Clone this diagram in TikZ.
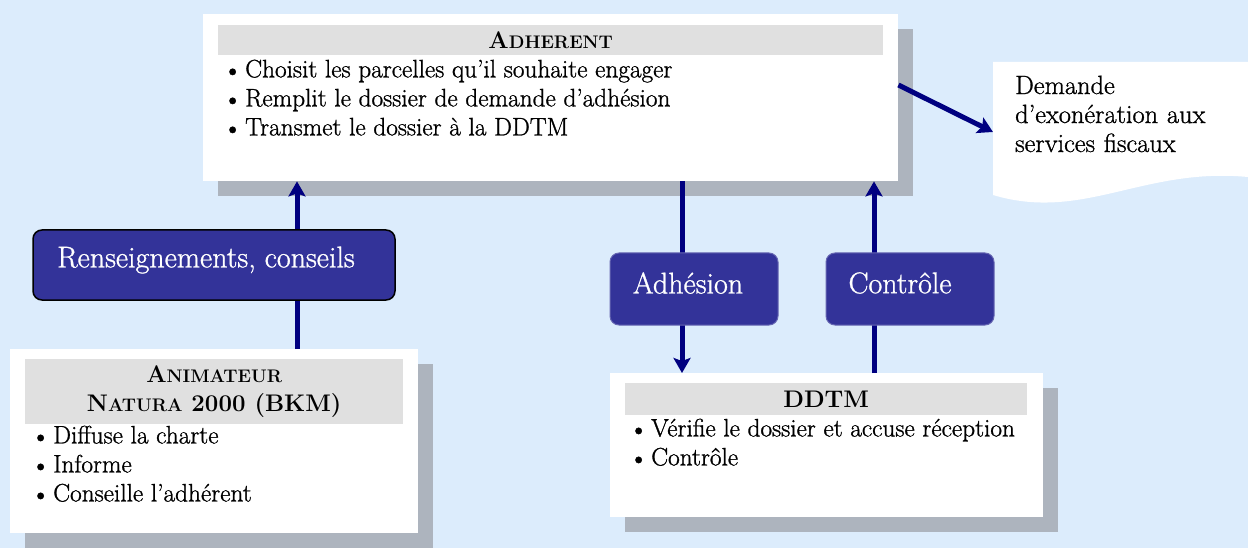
\documentclass[tikz,border=0pt]{standalone}
\usepackage{fontspec}
\setmainfont{Latin Modern Roman}[UprightFeatures={FakeBold=1.0}]
\usetikzlibrary{shadows,calc,arrows.meta}
\definecolor{bgblue}{RGB}{220,236,252}
\definecolor{shadowgray}{RGB}{173,180,190}
\definecolor{headgray}{RGB}{224,224,224}
\definecolor{boxblue}{RGB}{51,51,153}
\definecolor{arrownavy}{RGB}{0,0,128}
\pgfdeclarelayer{back}
\pgfsetlayers{back,main}
\newcommand\bitem{\makebox[19pt][l]{\kern-4pt\raisebox{-2.2pt}{\fontsize{29}{29}\selectfont\textbullet}}}
\newcommand\bigsc[2]{{\fontsize{24}{29}\selectfont #1}{\fontsize{18.2}{29}\selectfont #2}}
\begin{document}
\begin{tikzpicture}[x=1pt,y=-1pt,
  card/.style={fill=white, draw=none, anchor=north west, inner sep=0pt,
    general shadow={fill=shadowgray, shadow xshift=15pt, shadow yshift=-15pt}},
  headbar/.style={fill=headgray, anchor=north west, inner sep=0pt, align=center,
    font=\bfseries\fontsize{24}{29}\selectfont},
  bullets/.style={anchor=north west, inner sep=0pt, align=left,
    font=\fontsize{25.3}{29}\selectfont},
  doctext/.style={anchor=north west, inner xsep=22pt, inner ysep=13.5pt,
    text width=211pt, align=left, font=\fontsize{26.4}{29}\selectfont},
  flow/.style={draw=arrownavy, line width=5pt, -{Stealth[length=15pt,width=17pt,inset=3pt]}},
  tag/.style={rounded corners=9pt, fill=boxblue, text=white,
    font=\fontsize{30}{34}\selectfont, inner sep=0pt}
]
\useasboundingbox (0,0) rectangle (1248,548);

% Adherent
\node[card, minimum width=695pt, minimum height=167pt] (adh) at (203,14) {};
\node[headbar, minimum width=665pt, minimum height=30pt] (adhhead) at (218,25) {\bigsc{A}{DHERENT}};
\node[bullets] (adhlist) at (226,59.5) {\bitem Choisit les parcelles qu’il souhaite engager\\ \bitem Remplit le dossier de demande d’adhésion\\ \bitem Transmet le dossier à la DDTM};

% Animateur
\node[card, minimum width=408pt, minimum height=184pt] (anim) at (10,349) {};
\node[headbar, minimum width=378pt, minimum height=65pt] (animhead) at (25,359) {\bigsc{A}{NIMATEUR}\\ \bigsc{N}{ATURA} 2000 (BKM)};
\node[bullets] (animlist) at (34,425.5) {\bitem Diffuse la charte\\ \bitem Informe\\ \bitem Conseille l’adhérent};

% DDTM
\node[card, minimum width=433pt, minimum height=144pt] (ddtm) at (610,373) {};
\node[headbar, minimum width=402pt, minimum height=32pt] (ddtmhead) at (625,383) {DDTM};
\node[bullets] (ddtmlist) at (632,418.5) {\bitem Vérifie le dossier et accuse réception\\ \bitem Contrôle};

% Document
\node[doctext] (doc) at (993,62) {Demande\\ d’exonération aux\\ services fiscaux};

% Connectors
\coordinate (a1) at ($(anim.north west)+(287,0)$);
\draw[flow] (a1) -- (a1 |- adh.south);
\coordinate (a2) at ($(adh.south west)+(479,0)$);
\draw[flow] (a2) -- (a2 |- ddtm.north);
\coordinate (a3) at ($(ddtm.north west)+(264,0)$);
\draw[flow] (a3) -- (a3 |- adh.south);
\draw[flow] ($(adh.north east)+(0,71)$) -- ($(doc.north west)+(0,70)$);

% Labels on connectors
\node[tag, draw=black, line width=1.5pt, minimum width=362pt, minimum height=70pt] (rens) at (214,265)
  {\raisebox{5pt}[\height][\depth]{Renseignements, conseils}\kern16pt};
\node[tag, draw=boxblue!75!white, line width=1pt, minimum width=168pt, minimum height=72pt] (adhe) at (694,289)
  {\raisebox{6pt}[\height][\depth]{Adhésion}\kern12pt};
\node[tag, draw=boxblue!75!white, line width=1pt, minimum width=168pt, minimum height=72pt] (ctrl) at (910,289)
  {\raisebox{6pt}[\height][\depth]{Contrôle}\kern20pt};

\begin{pgfonlayer}{back}
  \fill[bgblue] (0,0) rectangle (1248,548);
  \fill[white] (doc.north west) -- ++(255,0) -- ++(0,115)
    .. controls +(-105,-10) and +(90,27) .. ($(doc.north west)+(0,133)$) -- cycle;
\end{pgfonlayer}
\end{tikzpicture}
\end{document}
